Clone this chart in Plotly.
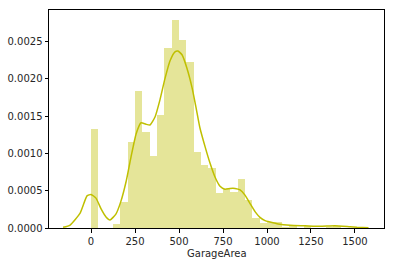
import plotly.graph_objects as go

# Histogram (density) of GarageArea, 34 equal bins from 0 to 1418
bin_start = 0.0
bin_end = 1418.0
bin_density = [0.00133, 0.0, 0.0, 0.00005, 0.00035, 0.00115, 0.00184, 0.00129,
               0.00096, 0.00151, 0.00241, 0.00278, 0.00252, 0.00223, 0.00102,
               0.00085, 0.00080, 0.00047, 0.00052, 0.00048, 0.00066, 0.00038,
               0.00013, 0.00007, 0.00008, 0.00008, 0.00002, 0.00003, 0.0,
               0.00003, 0.0, 0.0, 0.00002, 0.00003]

# KDE curve points
kde_x = [-159, -119, -62, -23, 0, 28, 57, 85, 108, 142, 170, 199, 227, 256, 284,
         312, 335, 364, 392, 420, 449, 477, 494, 517, 545, 574, 597, 619, 648,
         676, 705, 733, 761, 790, 818, 847, 875, 903, 932, 960, 989, 1017, 1063,
         1131, 1216, 1301, 1386, 1472, 1511, 1577]
kde_y = [0.00001, 0.00004, 0.0002, 0.00043, 0.00045, 0.0004, 0.000255, 0.000147,
         0.000107, 0.00019, 0.00036, 0.00062, 0.00095, 0.00126, 0.00141, 0.00139,
         0.00138, 0.00149, 0.00172, 0.0020, 0.00224, 0.00236, 0.00237, 0.00232,
         0.00214, 0.00188, 0.00161, 0.00134, 0.00109, 0.00087, 0.00068, 0.00056,
         0.00052, 0.00053, 0.00053, 0.00051, 0.00044, 0.00033, 0.00022, 0.000143,
         0.000098, 0.00008, 0.000054, 0.000036, 0.00003, 0.000023, 0.00003,
         0.000016, 0.00001, 0.000004]

x_ticks = [0, 250, 500, 750, 1000, 1250, 1500]
y_ticks = [0.0, 0.0005, 0.0010, 0.0015, 0.0020, 0.0025]
x_label = "GarageArea"

n_bins = len(bin_density)
bw = (bin_end - bin_start) / n_bins
centers = [bin_start + bw * (i + 0.5) for i in range(n_bins)]

fig = go.Figure()
fig.add_trace(go.Bar(x=centers, y=bin_density, width=[bw] * n_bins,
                     marker=dict(color="rgba(191,191,0,0.4)", line=dict(width=0)),
                     showlegend=False))
fig.add_trace(go.Scatter(x=kde_x, y=kde_y, mode="lines",
                         line=dict(color="#bfbf00", width=1.5, shape="spline", smoothing=0.5),
                         showlegend=False))

font = dict(family="DejaVu Sans", size=10, color="#262626")
axis_common = dict(showline=True, linecolor="black", linewidth=1, mirror=True,
                   ticks="outside", ticklen=3.5, tickwidth=0.8, tickcolor="black",
                   showgrid=False, zeroline=False, automargin=False,
                   tickfont=font)

fig.update_layout(
    width=394, height=266,
    margin=dict(l=49, r=10, t=10, b=38, autoexpand=False),
    paper_bgcolor="white", plot_bgcolor="white",
    bargap=0,
    xaxis=dict(range=[-239, 1665], tickvals=x_ticks, **axis_common),
    yaxis=dict(range=[0, 0.00292], tickvals=y_ticks, tickformat=".4f", **axis_common),
    annotations=[dict(text=x_label, xref="paper", yref="paper", x=0.5, y=-0.115,
                      xanchor="center", yanchor="middle", showarrow=False, font=font)],
)

fig.write_html("out.html")
